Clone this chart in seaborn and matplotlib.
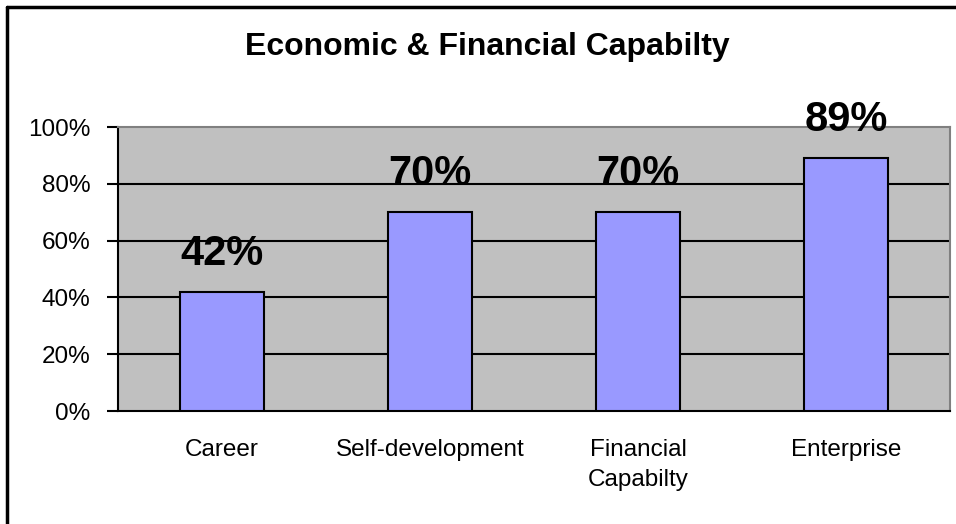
import matplotlib
matplotlib.use("Agg")
import matplotlib.pyplot as plt
import seaborn as sns
import pandas as pd
from matplotlib.lines import Line2D

# data
categories = ["Career", "Self-development", "Financial\nCapabilty", "Enterprise"]
values = [42, 70, 70, 89]
bar_labels = ["42%", "70%", "70%", "89%"]
y_ticks = [0, 20, 40, 60, 80, 100]
y_tick_labels = ["0%", "20%", "40%", "60%", "80%", "100%"]

df = pd.DataFrame({"category": categories, "value": values})

sns.set_style("white")
plt.rcParams["font.family"] = ["Liberation Sans", "DejaVu Sans"]
plt.rcParams["text.color"] = "black"
plt.rcParams["xtick.color"] = "black"
plt.rcParams["ytick.color"] = "black"

fig = plt.figure(figsize=(9.56, 5.24), dpi=100)
ax = fig.add_axes([118 / 956, 113 / 524, 832 / 956, 284 / 524])
ax.set_facecolor("#C0C0C0")

sns.barplot(data=df, x="category", y="value", color="#9999FF", width=0.4,
            edgecolor="black", linewidth=1.5, saturation=1, ax=ax, zorder=3)

ax.set_ylim(0, 100)
ax.set_xlim(-0.5, len(categories) - 0.5)
ax.set_yticks(y_ticks)
ax.set_yticklabels(y_tick_labels, fontsize=17.5)
for y in y_ticks[1:-1]:
    ax.axhline(y, color="black", linewidth=1.5, zorder=1)

# x ticks at category boundaries, labels centred
ax.set_xticks([i - 0.5 for i in range(len(categories) + 1)])
ax.set_xticklabels([])
ax.set_xticks(range(len(categories)), minor=True)
ax.set_xticklabels(categories, minor=True, fontsize=17.5, linespacing=1.5)
ax.tick_params(axis="x", which="minor", length=0, pad=20)
ax.tick_params(axis="x", which="major", length=8, width=1.5, color="black", direction="out")
ax.tick_params(axis="y", length=8, width=1.5, color="black", direction="out", pad=12, left=True)
ax.set_xlabel("")
ax.set_ylabel("")

for side in ["top", "right"]:
    ax.spines[side].set_color("#808080")
    ax.spines[side].set_linewidth(1.5)
for side in ["left", "bottom"]:
    ax.spines[side].set_color("black")
    ax.spines[side].set_linewidth(1.5)

for i, (v, lab) in enumerate(zip(values, bar_labels)):
    ax.annotate(lab, (i, v), xytext=(0, 13), textcoords="offset points",
                ha="center", va="bottom", fontsize=30, fontweight="bold",
                color="black", zorder=5, annotation_clip=False)

fig.text(0.51, 0.91, "Economic & Financial Capabilty", ha="center", va="center",
         fontsize=23, fontweight="bold", color="black")

# chart-area border (top and left edges visible)
fig.add_artist(Line2D([7 / 956, 1], [1 - 7 / 524, 1 - 7 / 524], color="black",
                      linewidth=2.5, transform=fig.transFigure))
fig.add_artist(Line2D([7 / 956, 7 / 956], [0, 1 - 7 / 524], color="black",
                      linewidth=2.5, transform=fig.transFigure))

fig.savefig("out.png", dpi=100)
